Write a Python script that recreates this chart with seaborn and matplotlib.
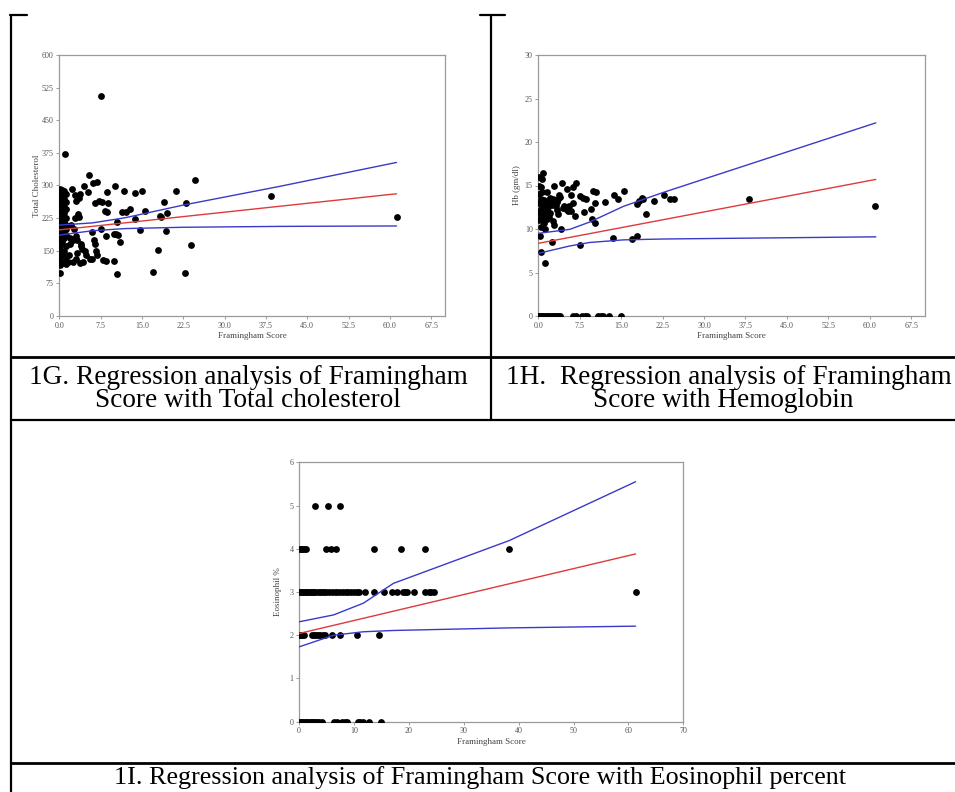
import matplotlib
matplotlib.use("Agg")
import matplotlib.pyplot as plt
from matplotlib.lines import Line2D
import seaborn as sns
import pandas as pd

# ---------------- data ----------------
# 1G: Framingham score vs Total cholesterol
chol_score = [0.1]*9 + [0.2]*9 + [0.5]*11 + [0.8]*10 + [1.2]*10 + [
    1.0, 1.6, 1.8, 1.9, 2.0, 2.1, 2.3, 2.4, 2.5, 2.6,
    2.8, 2.9, 3.0, 3.0, 3.1, 3.2, 3.3, 3.4, 3.5, 3.6,
    3.7, 3.8, 3.9, 4.0, 4.2, 4.3, 4.5, 4.6, 4.8, 5.2,
    5.3, 5.5, 5.9, 6.0, 6.2, 6.3, 6.4, 6.5, 6.7, 6.8,
    6.9, 7.2, 7.6, 7.6, 7.8, 8.0, 8.3, 8.4, 8.5, 8.6,
    8.7, 8.9, 9.9, 9.9, 10.1, 10.2, 10.4, 10.5, 10.6, 11.0,
    11.4, 11.7, 12.1, 12.9, 13.7, 13.8, 14.7, 15.0, 15.6, 17.0,
    18.0, 18.3, 18.5, 19.0, 19.4, 19.6, 21.2, 22.9, 23.0, 23.9,
    24.7, 38.4, 61.2]
chol_value = [100, 128, 150, 175, 195, 215, 242, 265, 285,
              118, 138, 162, 185, 205, 228, 255, 275, 293,
              122, 140, 170, 190, 200, 212, 225, 240, 260, 280, 290,
              125, 150, 180, 196, 206, 216, 236, 250, 270, 288,
              120, 135, 160, 186, 200, 210, 226, 246, 262, 280] + [
    372, 125, 140, 180, 165, 210, 293, 175, 125, 200,
    225, 278, 265, 185, 130, 145, 175, 235, 271, 228,
    122, 280, 160, 165, 155, 125, 298, 150, 140, 284,
    324, 132, 194, 130, 305, 174, 260, 165, 150, 309,
    140, 265, 506, 199, 261, 128, 242, 127, 184, 284,
    240, 259, 126, 189, 298, 189, 97, 216, 186, 169,
    238, 287, 238, 245, 223, 282, 198, 287, 241, 101,
    152, 230, 228, 263, 196, 236, 287, 100, 259, 163,
    312, 277, 227]
chol_fit_x = [0, 61.2]
chol_fit_y = [198, 281]
chol_band_x = [0, 6, 12, 22.5, 40, 61.2]
chol_upper = [209, 214, 226, 255, 298, 353]
chol_lower = [186, 196, 201, 204, 206, 207]

# 1H: Framingham score vs Hemoglobin
hb_score = [0, 0.2, 0.4, 0.6, 0.9, 1.2, 1.5, 1.8, 2.1, 2.4, 2.7, 3.0, 3.3, 3.6, 4.0,
            6.3, 6.8, 7.9, 8.4, 8.9, 10.8, 11.3, 11.7, 12.8, 14.9] + \
    [0.1]*6 + [0.4]*5 + [0.7]*5 + [1.0]*4 + [0.8] + [1.6]*4 + [
    0.24, 0.4, 1.1, 1.2, 1.4, 1.3, 1.8, 2.1, 2.1, 2.4,
    2.6, 2.9, 3.0, 2.9, 3.6, 3.6, 3.8, 4.1, 4.3, 4.7,
    5.0, 5.2, 5.6, 6.2, 6.0, 6.2, 5.9, 6.6, 6.9, 7.5,
    7.5, 8.3, 8.1, 8.7, 9.8, 9.6, 9.95, 10.4, 10.3, 10.3,
    12.0, 13.6, 13.7, 14.5, 15.5, 16.9, 17.8, 18.2, 17.95, 18.7,
    18.97, 19.5, 21.0, 22.8, 23.9, 24.5, 38.2, 61.0,
    2.5, 3.2, 3.4, 2.7, 1.5, 1.9, 4.0, 3.3, 2.2, 4.4, 5.3, 2.0]
hb_value = [0]*25 + \
    [11.0, 12.0, 13.0, 14.0, 15.0, 16.0,
     10.2, 11.5, 12.3, 13.5, 14.8,
     11.0, 12.0, 13.0, 14.2, 15.8,
     10.7, 11.8, 12.6, 13.3, 16.4,
     11.2, 12.2, 13.0, 14.3] + [
    9.2, 7.3, 11.4, 10.0, 12.8, 6.1, 12.5, 13.3, 11.8, 8.5,
    10.9, 10.5, 13.0, 15.0, 11.7, 13.4, 13.9, 10.0, 15.3, 12.6,
    12.3, 14.6, 12.6, 14.8, 12.1, 13.0, 13.9, 11.5, 15.3, 8.2,
    13.8, 11.9, 13.6, 13.4, 11.2, 12.3, 14.4, 14.2, 13.0, 10.65,
    13.1, 9.0, 13.9, 13.4, 14.4, 8.9, 9.2, 13.2, 12.9, 13.6,
    13.45, 11.7, 13.2, 13.9, 13.45, 13.45, 13.4, 12.7,
    12.8, 12.6, 13.1, 13.4, 13.2, 12.9, 13.7, 12.2, 13.6, 12.4, 12.1, 11.4]
hb_fit_x = [0, 61.1]
hb_fit_y = [8.35, 15.7]
hb_band_x = [0, 5.7, 9.3, 15.4, 22.6, 61.1]
hb_upper = [9.5, 9.96, 10.8, 12.6, 14.2, 22.2]
hb_lower = [7.2, 8.05, 8.45, 8.75, 8.85, 9.1]

# 1I: Framingham score vs Eosinophil %
eos_score = [2.9, 5.3, 7.5] + \
    [0, 0.3, 0.6, 0.9, 1.3, 5.0, 5.8, 6.7, 13.7, 18.5, 22.9, 38.3] + \
    [0, 0.3, 0.6, 0.9, 1.2, 1.5, 1.8, 2.1, 2.4, 2.7, 3.0, 3.4, 3.8, 4.2,
     4.6, 5.0, 5.5, 6.0, 6.5, 7.0, 7.5, 8.0, 8.5, 9.0, 9.5, 10.0, 10.5, 11.0,
     12.1, 13.7, 15.5, 16.9, 17.9, 18.9, 19.3, 19.6, 21.0, 22.9, 23.6, 24.0, 24.5, 61.3] + \
    [0, 0.3, 0.6, 0.9, 2.3, 2.7, 3.1, 3.5, 3.9, 4.3, 4.7, 6.1, 7.5, 10.5, 14.5] + \
    [0, 0.3, 0.6, 0.9, 1.2, 1.5, 1.8, 2.1, 2.4, 2.7, 3.0, 3.3, 3.6, 4.1,
     6.4, 6.9, 7.9, 8.4, 8.8, 10.8, 11.2, 11.7, 12.8, 14.9]
eos_value = [5]*3 + [4]*12 + [3]*42 + [2]*15 + [0]*24
eos_fit_x = [0, 61.3]
eos_fit_y = [2.04, 3.88]
eos_band_x = [0, 6.3, 11.7, 17.2, 38.3, 61.3]
eos_upper = [2.31, 2.47, 2.74, 3.2, 4.19, 5.55]
eos_lower = [1.73, 2.0, 2.08, 2.11, 2.17, 2.21]

# ---------------- figure ----------------
sns.set_theme(style="white")
plt.rcParams["font.family"] = ["Liberation Serif", "DejaVu Serif"]

W, H = 955, 792
fig = plt.figure(figsize=(W / 100, H / 100), dpi=100)
fig.patch.set_facecolor("white")


def box(l, t, r, b):
    return [l / W, 1 - b / H, (r - l) / W, (b - t) / H]


RED = "#df3a3a"
BLUE = "#3a3ac8"
GRAY = "#9a9a9a"


def panel(rect, xs, ys, fx, fy, bx, bu, bl, xlim, xticks, xlabels, ylim, yticks,
          ylabel, ypad):
    ax = fig.add_axes(rect)
    df = pd.DataFrame({"x": xs, "y": ys})
    sns.scatterplot(data=df, x="x", y="y", ax=ax, color="black", s=24,
                    linewidth=0, zorder=3)
    sns.lineplot(x=fx, y=fy, ax=ax, color=RED, lw=1.0, sort=False,
                 estimator=None, zorder=4)
    sns.lineplot(x=bx, y=bu, ax=ax, color=BLUE, lw=1.0, sort=False,
                 estimator=None, zorder=4)
    sns.lineplot(x=bx, y=bl, ax=ax, color=BLUE, lw=1.0, sort=False,
                 estimator=None, zorder=4)
    ax.set_xlim(*xlim)
    ax.set_ylim(*ylim)
    ax.set_xticks(xticks)
    ax.set_xticklabels(xlabels)
    ax.set_yticks(yticks)
    ax.set_yticklabels([str(v) for v in yticks])
    for s in ax.spines.values():
        s.set_color(GRAY)
        s.set_linewidth(0.9)
    ax.tick_params(axis="both", direction="out", length=2.5, width=0.7,
                   color=GRAY, labelsize=5.8, labelcolor="#555555", pad=1.5)
    ax.tick_params(axis="x", bottom=True)
    ax.tick_params(axis="y", left=True)
    ax.set_xlabel("Framingham Score", fontsize=6.5, color="#444444", labelpad=2)
    ax.set_ylabel(ylabel, fontsize=6.5, color="#444444", labelpad=ypad)
    return ax


xt1 = [0, 7.5, 15, 22.5, 30, 37.5, 45, 52.5, 60, 67.5]
xl1 = ["%.1f" % v for v in xt1]

panel(box(59.3, 55, 445, 316), chol_score, chol_value, chol_fit_x, chol_fit_y,
      chol_band_x, chol_upper, chol_lower, (0, 70), xt1, xl1, (0, 600),
      [0, 75, 150, 225, 300, 375, 450, 525, 600], "Total Cholesterol", 0.5)

panel(box(538.3, 55, 925, 316), hb_score, hb_value, hb_fit_x, hb_fit_y,
      hb_band_x, hb_upper, hb_lower, (0, 70), xt1, xl1, (0, 30),
      [0, 5, 10, 15, 20, 25, 30], "Hb (gm/dl)", 3)

xt3 = [0, 10, 20, 30, 40, 50, 60, 70]
panel(box(299, 462.3, 683.3, 721.7), eos_score, eos_value, eos_fit_x, eos_fit_y,
      eos_band_x, eos_upper, eos_lower, (0, 70), xt3, [str(v) for v in xt3],
      (0, 6), [0, 1, 2, 3, 4, 5, 6], "Eosinophil %", 5)


# ---------------- table lines ----------------
def hline(y, x0, x1, lw=1.6):
    fig.add_artist(Line2D([x0 / W, x1 / W], [1 - y / H, 1 - y / H],
                          color="black", lw=lw, transform=fig.transFigure))


def vline(x, y0, y1, lw=1.6):
    fig.add_artist(Line2D([x / W, x / W], [1 - y0 / H, 1 - y1 / H],
                          color="black", lw=lw, transform=fig.transFigure))


vline(11, 15, 792)
vline(491, 15, 420)
hline(15, 10, 27)
hline(15, 480, 505)
hline(357, 11, 955, lw=2.0)
hline(420, 11, 955)
hline(763, 11, 955, lw=2.0)

cap = dict(fontsize=19.6, color="black", ha="center", va="center")
fig.text(248 / W, 1 - 377 / H, "1G. Regression analysis of Framingham", **cap)
fig.text(248 / W, 1 - 401 / H, "Score with Total cholesterol", **cap)
fig.text(729 / W, 1 - 377 / H, "1H.  Regression analysis of Framingham", **cap)
fig.text(723 / W, 1 - 401 / H, "Score with Hemoglobin", **cap)
cap["fontsize"] = 18.8
fig.text(480 / W, 1 - 778 / H,
         "1I. Regression analysis of Framingham Score with Eosinophil percent", **cap)

fig.savefig("out.png", dpi=100)
